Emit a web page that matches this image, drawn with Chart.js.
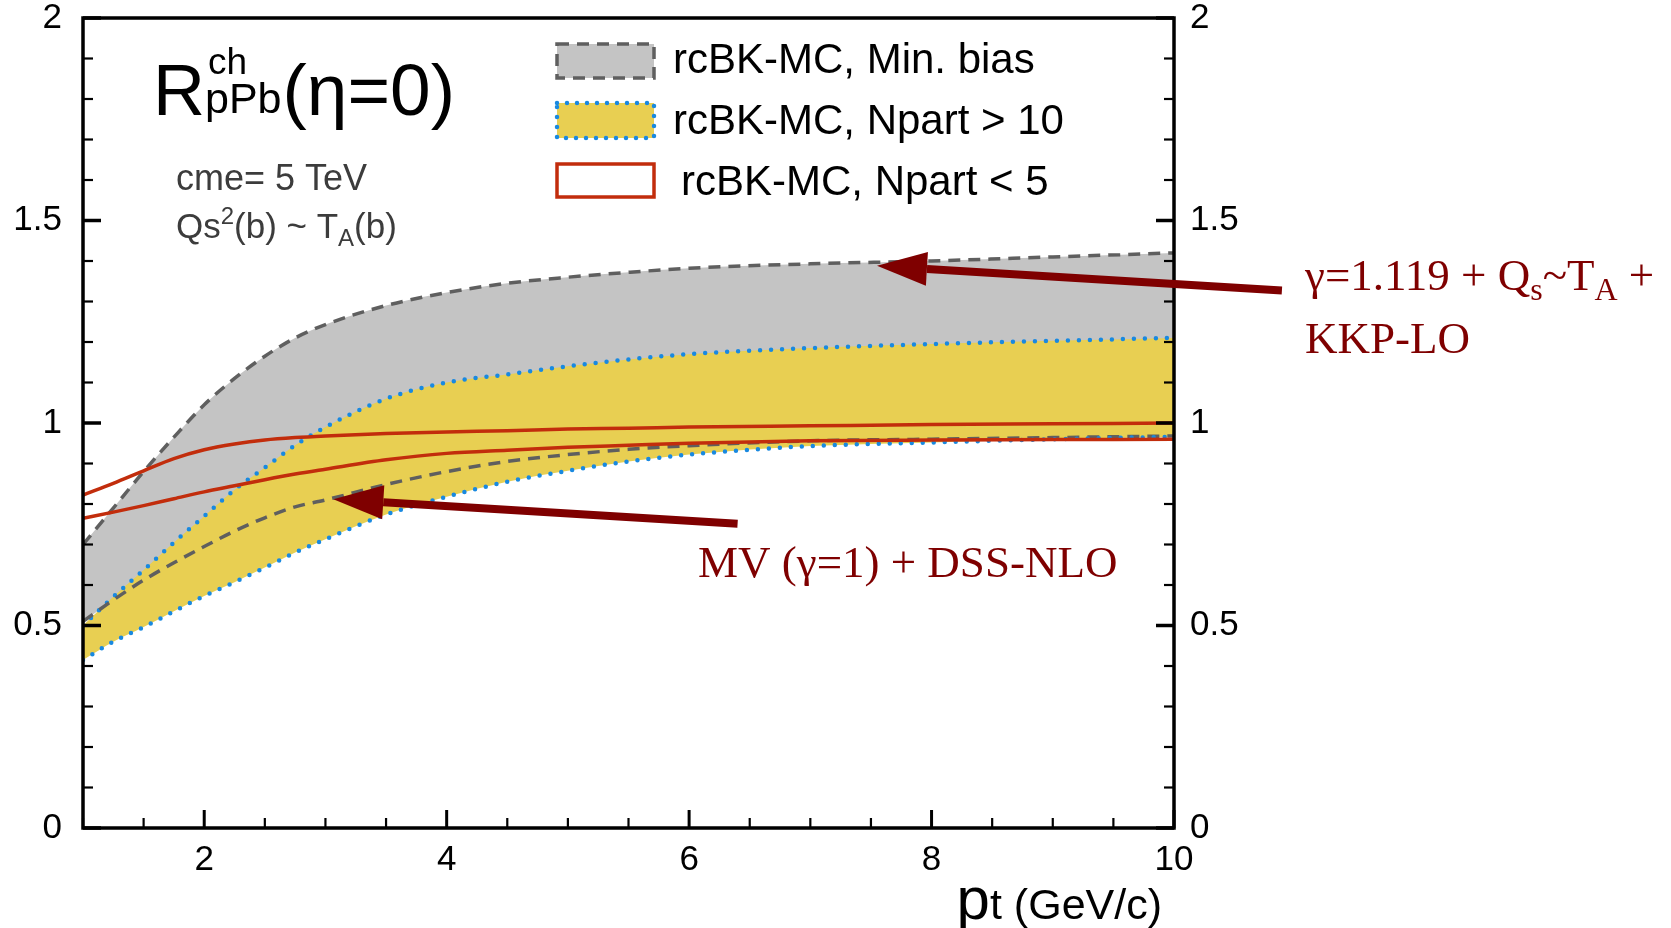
<!DOCTYPE html>
<html>
<head>
<meta charset="utf-8">
<script src="https://cdn.jsdelivr.net/npm/chart.js@4.4.1/dist/chart.umd.min.js"></script>
<style>
  html, body { margin: 0; padding: 0; background: #fff; }
  #wrap { width: 1671px; height: 928px; }
</style>
</head>
<body>
<div id="wrap"><canvas id="chart" width="1671" height="928"></canvas></div>
<script>
// pt grid (GeV/c)
var pt = [1, 1.25, 1.5, 1.75, 2, 2.25, 2.5, 2.75, 3, 3.5, 4, 4.5, 5, 5.5, 6, 7, 8, 9, 10];

// rcBK-MC, Min. bias band (grey, dashed edges)
var minBiasUpper = [0.70, 0.79, 0.88, 0.965, 1.045, 1.11, 1.165, 1.21, 1.243, 1.29, 1.322, 1.345, 1.36, 1.372, 1.382, 1.393, 1.40, 1.41, 1.42];
var minBiasLower = [0.51, 0.563, 0.612, 0.655, 0.695, 0.733, 0.766, 0.793, 0.81, 0.848, 0.88, 0.905, 0.922, 0.935, 0.944, 0.956, 0.96, 0.964, 0.968];

// rcBK-MC, Npart > 10 band (yellow, dotted edges)
var centralUpper = [0.50, 0.571, 0.637, 0.705, 0.77, 0.835, 0.89, 0.945, 0.99, 1.06, 1.10, 1.12, 1.14, 1.157, 1.17, 1.185, 1.195, 1.203, 1.21];
var centralLower = [0.415, 0.46, 0.496, 0.535, 0.573, 0.607, 0.643, 0.68, 0.713, 0.774, 0.818, 0.855, 0.882, 0.905, 0.922, 0.943, 0.952, 0.96, 0.966];

// rcBK-MC, Npart < 5 (two red lines)
var periphUpper = [0.822, 0.851, 0.882, 0.912, 0.934, 0.948, 0.958, 0.964, 0.968, 0.974, 0.978, 0.981, 0.985, 0.987, 0.99, 0.993, 0.996, 0.998, 1.0];
var periphLower = [0.765, 0.78, 0.796, 0.813, 0.83, 0.845, 0.86, 0.874, 0.886, 0.909, 0.925, 0.933, 0.94, 0.945, 0.95, 0.956, 0.958, 0.959, 0.96];

var legendLabels = ['rcBK-MC, Min. bias', 'rcBK-MC, Npart > 10', 'rcBK-MC, Npart < 5'];
var xTickLabels = [2, 4, 6, 8, 10];
var yTickLabels = [0, 0.5, 1, 1.5, 2];

// arrows: [tail, tip] in data units
var arrowUpper = [[10.89, 1.327], [7.55, 1.388]];
var arrowLower = [[6.40, 0.751], [3.065, 0.812]];

var SANS = '"Liberation Sans", Arial, Helvetica, sans-serif';
var SERIF = '"Liberation Serif", "Times New Roman", serif';

var GREY_FILL = '#c4c4c4', GREY_LINE = '#5f5f5f';
var YELLOW_FILL = '#e8cf52', BLUE_DOT = '#1989e0';
var RED = '#c22d0c', DARKRED = '#7f0000';

function pts(arr) {
  return pt.map(function (x, i) { return {x: x, y: arr[i]}; });
}

function txt(ctx, s, x, y, size, family, color) {
  ctx.font = size + 'px ' + family;
  ctx.fillStyle = color;
  ctx.fillText(s, x, y);
  return ctx.measureText(s).width;
}

function runs(ctx, list, x, y, family, color) {
  list.forEach(function (r) {
    x += txt(ctx, r[0], x, y + (r[2] || 0), r[1], family, color);
  });
  return x;
}

function runsWidth(ctx, list, family) {
  var w = 0;
  list.forEach(function (r) { ctx.font = r[1] + 'px ' + family; w += ctx.measureText(r[0]).width; });
  return w;
}

function arrow(ctx, chart, a) {
  var xs = chart.scales.x, ys = chart.scales.y;
  var x0 = xs.getPixelForValue(a[0][0]), y0 = ys.getPixelForValue(a[0][1]);
  var x1 = xs.getPixelForValue(a[1][0]), y1 = ys.getPixelForValue(a[1][1]);
  var ang = Math.atan2(y1 - y0, x1 - x0);
  var hl = 50, hw = 17;
  var bx = x1 - hl * Math.cos(ang), by = y1 - hl * Math.sin(ang);
  ctx.strokeStyle = DARKRED;
  ctx.fillStyle = DARKRED;
  ctx.lineWidth = 8;
  ctx.beginPath(); ctx.moveTo(x0, y0); ctx.lineTo(bx, by); ctx.stroke();
  ctx.beginPath();
  ctx.moveTo(x1, y1);
  ctx.lineTo(bx + hw * Math.sin(ang), by - hw * Math.cos(ang));
  ctx.lineTo(bx - hw * Math.sin(ang), by + hw * Math.cos(ang));
  ctx.closePath(); ctx.fill();
}

var decor = {
  id: 'decor',
  afterDraw: function (chart) {
    var ctx = chart.ctx, a = chart.chartArea;
    var xs = chart.scales.x, ys = chart.scales.y;
    ctx.save();

    // inward ticks
    ctx.strokeStyle = '#000';
    xs.ticks.forEach(function (t) {
      var px = xs.getPixelForValue(t.value);
      var major = xTickLabels.indexOf(t.value) >= 0;
      ctx.lineWidth = major ? 3 : 2.2;
      ctx.beginPath(); ctx.moveTo(px, a.bottom); ctx.lineTo(px, a.bottom - (major ? 18 : 10)); ctx.stroke();
    });
    ys.ticks.forEach(function (t) {
      var py = ys.getPixelForValue(t.value);
      var major = Math.round(t.value * 10) % 5 === 0;
      var len = major ? 18 : 10;
      ctx.lineWidth = major ? 3.5 : 2.2;
      ctx.beginPath(); ctx.moveTo(a.left, py); ctx.lineTo(a.left + len, py); ctx.stroke();
      ctx.beginPath(); ctx.moveTo(a.right, py); ctx.lineTo(a.right - len, py); ctx.stroke();
    });

    // frame
    ctx.lineWidth = 3.5;
    ctx.strokeRect(a.left, a.top, a.right - a.left, a.bottom - a.top);

    // legend
    ctx.lineWidth = 3.5;
    ctx.fillStyle = GREY_FILL; ctx.fillRect(557, 44, 97, 34);
    ctx.setLineDash([12, 8]); ctx.strokeStyle = GREY_LINE; ctx.strokeRect(557, 44, 97, 34);
    ctx.fillStyle = YELLOW_FILL; ctx.fillRect(557, 103, 97, 35);
    ctx.setLineDash([0, 10]); ctx.lineCap = 'round'; ctx.lineWidth = 4.5; ctx.strokeStyle = BLUE_DOT;
    ctx.strokeRect(557, 103, 97, 35);
    ctx.setLineDash([]); ctx.lineCap = 'butt'; ctx.lineWidth = 3.5; ctx.strokeStyle = RED;
    ctx.strokeRect(557, 164, 97, 33);

    ctx.textBaseline = 'alphabetic';
    txt(ctx, legendLabels[0], 673, 73, 42, SANS, '#000');
    txt(ctx, legendLabels[1], 673, 134, 42, SANS, '#000');
    txt(ctx, legendLabels[2], 681, 195, 42, SANS, '#000');

    // title R^ch_pPb(eta=0)
    var x = 153;
    x += txt(ctx, 'R', x, 115, 72, SANS, '#000');
    var w1 = txt(ctx, 'ch', x + 3, 74, 37, SANS, '#000');
    var w2 = txt(ctx, 'pPb', x, 113, 43, SANS, '#000');
    x += Math.max(w1 + 3, w2) + 1;
    txt(ctx, '(\u03b7=0)', x, 115, 73, SANS, '#000');

    txt(ctx, 'cme= 5 TeV', 176, 190, 36, SANS, '#3c3c3c');
    runs(ctx, [['Qs', 35], ['2', 24, -14], ['(b) ~ T', 35], ['A', 24, 8], ['(b)', 35]], 176, 238, SANS, '#3c3c3c');

    // x axis title
    var xt = [['p', 60], ['t (GeV/c)', 43]];
    runs(ctx, xt, 1162 - runsWidth(ctx, xt, SANS), 919, SANS, '#000');

    // annotations
    arrow(ctx, chart, arrowUpper);
    arrow(ctx, chart, arrowLower);
    runs(ctx, [['\u03b3=1.119 + Q', 45], ['s', 32, 10], ['~T', 45], ['A', 32, 10], [' +', 45]], 1305, 290, SERIF, DARKRED);
    txt(ctx, 'KKP-LO', 1305, 353, 45, SERIF, DARKRED);
    txt(ctx, 'MV (\u03b3=1) + DSS-NLO', 698, 577, 45, SERIF, DARKRED);

    ctx.restore();
  }
};

var tickFont = {family: SANS, size: 35, lineHeight: 1};

function noEdgePadding(s) {
  s.paddingTop = 0;
  s.paddingBottom = 0;
}

var chart = new Chart(document.getElementById('chart'), {
  type: 'line',
  data: {
    datasets: [
      {label: legendLabels[0], data: pts(minBiasUpper), fill: 1, backgroundColor: GREY_FILL,
        borderColor: GREY_LINE, borderWidth: 3.5, borderDash: [12, 8], order: 6},
      {label: legendLabels[0], data: pts(minBiasLower), fill: false,
        borderColor: GREY_LINE, borderWidth: 3.5, borderDash: [12, 8], order: 4},
      {label: legendLabels[1], data: pts(centralUpper), fill: 3, backgroundColor: YELLOW_FILL,
        borderColor: BLUE_DOT, borderWidth: 4.5, borderDash: [0, 11], borderCapStyle: 'round', order: 5},
      {label: legendLabels[1], data: pts(centralLower), fill: false,
        borderColor: BLUE_DOT, borderWidth: 4.5, borderDash: [0, 11], borderCapStyle: 'round', order: 3},
      {label: legendLabels[2], data: pts(periphUpper), fill: false, borderColor: RED, borderWidth: 3.5, order: 2},
      {label: legendLabels[2], data: pts(periphLower), fill: false, borderColor: RED, borderWidth: 3.5, order: 1}
    ]
  },
  options: {
    responsive: false,
    animation: false,
    devicePixelRatio: 1,
    elements: {point: {radius: 0}, line: {cubicInterpolationMode: 'monotone'}},
    layout: {padding: {top: 18, right: 417, left: 0, bottom: 0}},
    plugins: {legend: {display: false}, tooltip: {enabled: false}},
    scales: {
      x: {
        type: 'linear', min: 1, max: 10,
        grid: {display: false, drawTicks: false}, border: {display: false},
        ticks: {stepSize: 0.5, autoSkip: false, maxRotation: 0, padding: 15, color: '#000', font: tickFont,
          callback: function (v) { return xTickLabels.indexOf(v) >= 0 ? String(v) : ''; }},
        afterFit: function (s) { s.height = 100; }
      },
      y: {
        min: 0, max: 2, position: 'left',
        grid: {display: false, drawTicks: false}, border: {display: false},
        ticks: {stepSize: 0.1, autoSkip: false, padding: 21, color: '#000', font: tickFont,
          callback: function (v) { var r = Math.round(v * 10) / 10; return yTickLabels.indexOf(r) >= 0 ? String(r) : ''; }},
        afterFit: function (s) { s.width = 83; noEdgePadding(s); }
      },
      y2: {
        min: 0, max: 2, position: 'right',
        grid: {display: false, drawTicks: false}, border: {display: false},
        ticks: {stepSize: 0.1, autoSkip: false, padding: 16, color: '#000', font: tickFont,
          callback: function (v) { var r = Math.round(v * 10) / 10; return yTickLabels.indexOf(r) >= 0 ? String(r) : ''; }},
        afterFit: function (s) { s.width = 80; noEdgePadding(s); }
      }
    }
  },
  plugins: [decor]
});
</script>
</body>
</html>
